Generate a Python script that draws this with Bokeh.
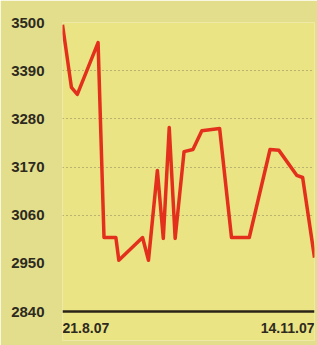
import pandas as pd
from bokeh.plotting import figure
from bokeh.models import Range1d, FixedTicker, Span
from bokeh.core.properties import value
from bokeh.embed import file_html
from bokeh.resources import INLINE

dates = ["2007-08-21", "2007-08-24", "2007-08-26", "2007-09-02", "2007-09-04",
         "2007-09-08", "2007-09-09", "2007-09-17", "2007-09-19", "2007-09-22",
         "2007-09-24", "2007-09-26", "2007-09-28", "2007-10-01", "2007-10-04",
         "2007-10-07", "2007-10-13", "2007-10-17", "2007-10-23", "2007-10-30",
         "2007-11-02", "2007-11-08", "2007-11-10", "2007-11-14"]
values = [3495, 3352, 3336, 3454, 3009, 3009, 2957, 3009, 2957, 3162,
          3007, 3260, 3007, 3205, 3210, 3253, 3258, 3009, 3009, 3210,
          3208, 3151, 3146, 2963]
y_ticks = [2840, 2950, 3060, 3170, 3280, 3390, 3500]
grid_ticks = [3060, 3170, 3280, 3390, 3500]
x_labels = ["21.8.07", "14.11.07"]

x = pd.to_datetime(dates)

# frame: top at 22px, baseline (first tick) at 311px, frame bottom at 340px
top_px, base_px, bottom_px = 22, 311, 340
units_per_px = (y_ticks[-1] - y_ticks[0]) / (base_px - top_px)
y_start = y_ticks[0] - (bottom_px - base_px) * units_per_px

p = figure(width=317, height=345, x_axis_type="datetime",
           output_backend="svg", toolbar_location=None,
           x_range=Range1d(x[0], x[-1]), y_range=Range1d(y_start, y_ticks[-1]),
           min_border_left=62, min_border_right=3, min_border_top=top_px,
           min_border_bottom=345 - bottom_px)

p.background_fill_color = "#ebe484"
p.border_fill_color = "#e3de8c"
p.outline_line_color = None

p.xgrid.grid_line_color = None
p.ygrid.ticker = FixedTicker(ticks=grid_ticks)
p.ygrid.grid_line_color = "#5e5a48"
p.ygrid.grid_line_alpha = 0.7
p.ygrid.grid_line_dash = "1 3"
p.ygrid.grid_line_width = 1

p.yaxis.ticker = FixedTicker(ticks=y_ticks)
p.yaxis.axis_line_color = None
p.yaxis.major_tick_line_color = None
p.yaxis.minor_tick_line_color = None
p.yaxis.major_label_standoff = 12
p.yaxis.major_label_text_font = "Liberation Sans"
p.yaxis.major_label_text_font_style = "bold"
p.yaxis.major_label_text_font_size = "15px"
p.yaxis.major_label_text_color = "#2e2a1e"

p.xaxis.visible = False

p.add_layout(Span(location=y_ticks[0], dimension="width",
                  line_color="#2a2418", line_width=2.5))

p.line(x, values, line_color="#e3301c", line_width=3.5, line_join="round")

for xv, txt, align in [(x[0], x_labels[0], "left"), (x[-1], x_labels[1], "right")]:
    p.text(x=[xv], y=[y_ticks[0]], text=[txt], text_align=align,
           text_baseline="middle", y_offset=16,
           text_font=value("Liberation Sans"), text_font_style="bold",
           text_font_size="14px", text_color="#2e2a1e")

open("out.html", "w").write(file_html(p, INLINE))
